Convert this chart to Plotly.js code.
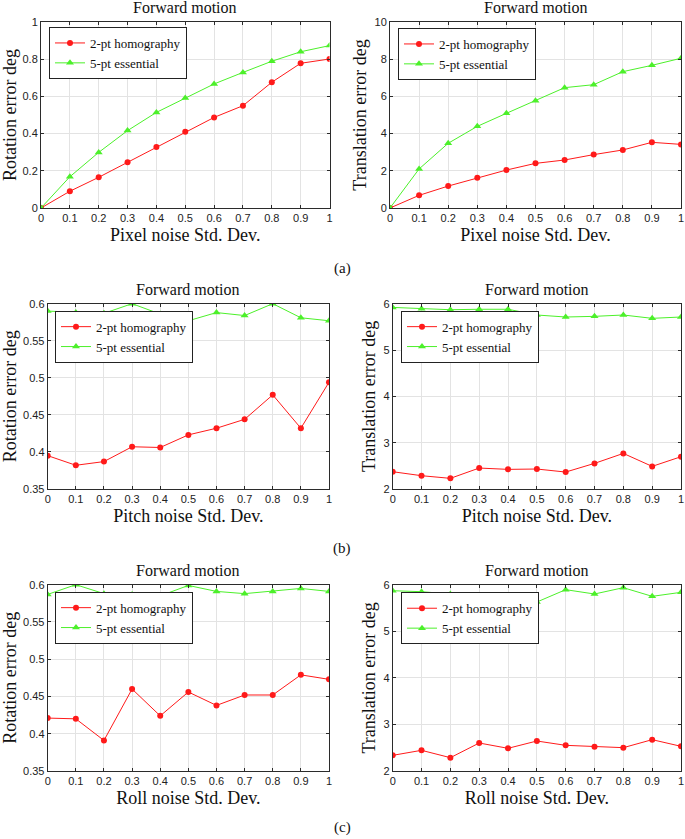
<!DOCTYPE html>
<html>
<head>
<meta charset="utf-8">
<script src="https://cdn.plot.ly/plotly-3.0.1.min.js"></script>
<style>html,body{margin:0;padding:0;background:#fff;}#chart{width:685px;height:839px;}</style>
</head>
<body>
<div id="chart"></div>
<script>
// ---- data ----
const noise = [0, 0.1, 0.2, 0.3, 0.4, 0.5, 0.6, 0.7, 0.8, 0.9, 1];
const noiseTickText = ['0', '0.1', '0.2', '0.3', '0.4', '0.5', '0.6', '0.7', '0.8', '0.9', '1'];
const seriesNames = ['2-pt homography', '5-pt essential'];

// (a) pixel noise
const pixelRotHomog = [0, 0.090, 0.165, 0.246, 0.328, 0.410, 0.487, 0.550, 0.676, 0.778, 0.801];
const pixelRotEss   = [0, 0.168, 0.299, 0.416, 0.514, 0.591, 0.667, 0.729, 0.789, 0.840, 0.873];
const pixelTrHomog  = [0, 0.68, 1.18, 1.63, 2.04, 2.40, 2.58, 2.87, 3.12, 3.53, 3.42];
const pixelTrEss    = [0, 2.10, 3.48, 4.39, 5.09, 5.77, 6.47, 6.63, 7.33, 7.67, 8.05];

// (b) pitch noise
const pitchRotHomog = [0.395, 0.382, 0.387, 0.407, 0.406, 0.423, 0.432, 0.444, 0.477, 0.432, 0.494];
const pitchRotEss   = [0.590, 0.588, 0.587, 0.600, 0.586, 0.577, 0.588, 0.584, 0.600, 0.581, 0.577];
const pitchTrHomog  = [2.373, 2.287, 2.230, 2.452, 2.424, 2.431, 2.366, 2.553, 2.768, 2.488, 2.697];
const pitchTrEss    = [5.92, 5.89, 5.87, 5.88, 5.88, 5.756, 5.713, 5.727, 5.756, 5.684, 5.713];

// (c) roll noise
const rollRotHomog = [0.421, 0.420, 0.391, 0.460, 0.424, 0.456, 0.438, 0.452, 0.452, 0.479, 0.473];
const rollRotEss   = [0.587, 0.600, 0.588, 0.587, 0.585, 0.599, 0.591, 0.588, 0.591, 0.595, 0.591];
const rollTrHomog  = [2.336, 2.444, 2.286, 2.601, 2.487, 2.644, 2.551, 2.522, 2.501, 2.673, 2.530];
const rollTrEss    = [5.871, 5.85, 5.80, 5.76, 5.72, 5.628, 5.893, 5.800, 5.936, 5.750, 5.836];

// y ticks
const rotPixelTicks = [0, 0.2, 0.4, 0.6, 0.8, 1];
const rotPixelText  = ['0', '0.2', '0.4', '0.6', '0.8', '1'];
const trPixelTicks  = [0, 2, 4, 6, 8, 10];
const trPixelText   = ['0', '2', '4', '6', '8', '10'];
const rotNoiseTicks = [0.35, 0.4, 0.45, 0.5, 0.55, 0.6];
const rotNoiseText  = ['0.35', '0.4', '0.45', '0.5', '0.55', '0.6'];
const trNoiseTicks  = [2, 3, 4, 5, 6];
const trNoiseText   = ['2', '3', '4', '5', '6'];

const plotTitle = 'Forward motion';
const xTitles = ['Pixel noise Std. Dev.', 'Pixel noise Std. Dev.', 'Pitch noise Std. Dev.', 'Pitch noise Std. Dev.', 'Roll noise Std. Dev.', 'Roll noise Std. Dev.'];
const yTitles = ['Rotation error deg', 'Translation error deg', 'Rotation error deg', 'Translation error deg', 'Rotation error deg', 'Translation error deg'];
const panelLabels = ['(a)', '(b)', '(c)'];

// ---- layout geometry (pixels) ----
const W = 685, H = 839;
const panels = [
  {x0: 41,    x1: 329.5, y0: 22,    y1: 208, lx: 49,  ly: 27,  hom: pixelRotHomog, ess: pixelRotEss, range: [0, 1],     tv: rotPixelTicks, tt: rotPixelText},
  {x0: 390,   x1: 681,   y0: 22,    y1: 208, lx: 398, ly: 28,  hom: pixelTrHomog,  ess: pixelTrEss,  range: [0, 10],    tv: trPixelTicks,  tt: trPixelText},
  {x0: 47.7,  x1: 329,   y0: 303.7, y1: 489, lx: 55,  ly: 310.7, hom: pitchRotHomog, ess: pitchRotEss, range: [0.35, 0.6], tv: rotNoiseTicks, tt: rotNoiseText},
  {x0: 392.7, x1: 681,   y0: 303.7, y1: 489, lx: 401, ly: 310.7, hom: pitchTrHomog,  ess: pitchTrEss,  range: [2, 6],      tv: trNoiseTicks,  tt: trNoiseText},
  {x0: 47.7,  x1: 329,   y0: 584.7, y1: 771, lx: 55,  ly: 591.7, hom: rollRotHomog, ess: rollRotEss, range: [0.35, 0.6], tv: rotNoiseTicks, tt: rotNoiseText},
  {x0: 392.7, x1: 681,   y0: 584.7, y1: 771, lx: 401, ly: 592.3, hom: rollTrHomog,  ess: rollTrEss,  range: [2, 6],      tv: trNoiseTicks,  tt: trNoiseText}
];

const serif = 'Liberation Serif';
const sans = 'Liberation Sans';
const red = '#ff1a1a';
const green = '#4cf02a';
const axisColor = '#2b2b2b';

const traces = [];
const layout = {
  width: W, height: H,
  margin: {l: 0, r: 0, t: 0, b: 0},
  paper_bgcolor: '#ffffff',
  plot_bgcolor: '#ffffff',
  showlegend: true,
  annotations: [],
  font: {family: sans, size: 11, color: '#222'}
};

panels.forEach((p, i) => {
  const n = i + 1;
  const xa = n === 1 ? 'x' : 'x' + n;
  const ya = n === 1 ? 'y' : 'y' + n;
  const lg = n === 1 ? 'legend' : 'legend' + n;
  traces.push({
    x: noise, y: p.hom, xaxis: xa, yaxis: ya, legend: lg,
    name: seriesNames[0], type: 'scatter', mode: 'lines+markers',
    line: {color: red, width: 1},
    marker: {symbol: 'circle', size: 6, color: red}
  });
  traces.push({
    x: noise, y: p.ess, xaxis: xa, yaxis: ya, legend: lg,
    name: seriesNames[1], type: 'scatter', mode: 'lines+markers',
    line: {color: green, width: 1},
    marker: {symbol: 'triangle-up', size: 7, color: green}
  });
  const xKey = n === 1 ? 'xaxis' : 'xaxis' + n;
  const yKey = n === 1 ? 'yaxis' : 'yaxis' + n;
  layout[xKey] = {
    domain: [p.x0 / W, p.x1 / W],
    anchor: ya,
    range: [0, 1],
    tickvals: noise, ticktext: noiseTickText,
    ticks: 'inside', ticklen: 3, tickcolor: axisColor,
    showline: true, linecolor: axisColor, linewidth: 1, mirror: 'ticks',
    showgrid: true, gridcolor: '#e3e3e3', gridwidth: 1,
    zeroline: false,
    tickfont: {family: sans, size: 11, color: '#222'},
    automargin: false,
    title: {text: xTitles[i], font: {family: serif, size: 18, color: '#111'}, standoff: 5}
  };
  layout[yKey] = {
    domain: [1 - p.y1 / H, 1 - p.y0 / H],
    anchor: xa,
    range: p.range,
    tickvals: p.tv, ticktext: p.tt,
    ticks: 'inside', ticklen: 3, tickcolor: axisColor,
    showline: true, linecolor: axisColor, linewidth: 1, mirror: 'ticks',
    showgrid: true, gridcolor: '#e3e3e3', gridwidth: 1,
    zeroline: false,
    tickfont: {family: sans, size: 11, color: '#222'},
    automargin: false,
    title: {text: yTitles[i], font: {family: serif, size: 18, color: '#111'}, standoff: 3}
  };
  layout[lg] = {
    x: p.lx / W, y: 1 - p.ly / H, xanchor: 'left', yanchor: 'top',
    xref: 'paper', yref: 'paper',
    bgcolor: '#ffffff', bordercolor: '#222', borderwidth: 1,
    font: {family: serif, size: 13, color: '#111'},
    itemwidth: 30, tracegroupgap: 0
  };
  layout.annotations.push({
    text: plotTitle, xref: 'paper', yref: 'paper',
    x: ((p.x0 + p.x1) / 2) / W, y: 1 - (p.y0 - 14) / H,
    xanchor: 'center', yanchor: 'middle', showarrow: false,
    font: {family: serif, size: 16, color: '#111'}
  });
});

const labelY = [268, 548, 827];
panelLabels.forEach((t, k) => {
  layout.annotations.push({
    text: t, xref: 'paper', yref: 'paper', x: 342 / W, y: 1 - labelY[k] / H,
    xanchor: 'center', yanchor: 'middle', showarrow: false,
    font: {family: serif, size: 15, color: '#111'}
  });
});

Plotly.newPlot('chart', traces, layout, {displayModeBar: false, staticPlot: true});
</script>
</body>
</html>
